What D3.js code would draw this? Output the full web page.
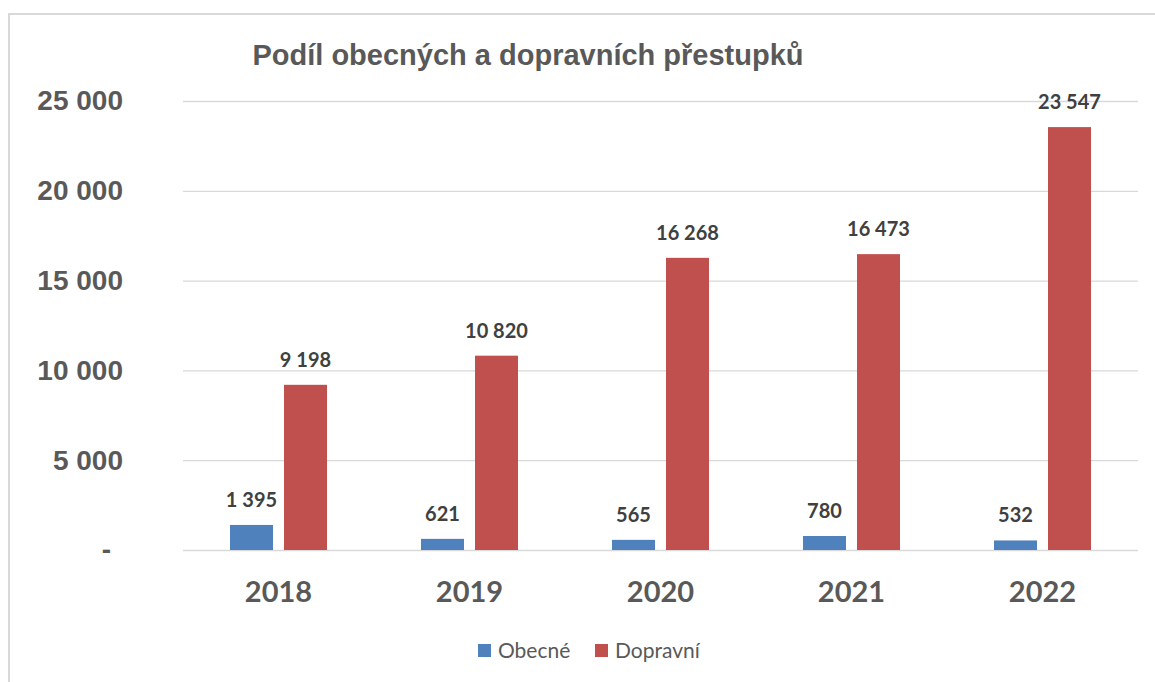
<!DOCTYPE html>
<html>
<head>
<meta charset="utf-8">
<script src="https://cdn.jsdelivr.net/npm/d3@7"></script>
<style>
  body { margin: 0; background: #fff; }
  svg { display: block; }
</style>
</head>
<body>
<div id="chart"></div>
<script>
var years = ["2018", "2019", "2020", "2021", "2022"];
var seriesNames = ["Obecné", "Dopravní"];
var obecne = [1395, 621, 565, 780, 532];
var dopravni = [9198, 10820, 16268, 16473, 23547];
var yTicks = [0, 5000, 10000, 15000, 20000, 25000];
var colors = ["#4F81BD", "#C0504D"];

var width = 1155, height = 682;
var plot = { left: 183, right: 1138, top: 101, bottom: 550 };

var svg = d3.select("#chart").append("svg")
  .attr("width", width)
  .attr("height", height);

/* chart frame - only top and left edges are visible */
svg.append("path")
  .attr("d", "M9,700 V14 H1160")
  .attr("fill", "none")
  .attr("stroke", "#D9D9D9")
  .attr("stroke-width", 2);

svg.append("text")
  .attr("x", 528)
  .attr("y", 65)
  .attr("text-anchor", "middle")
  .style("font-family", "'Liberation Sans', Arial, sans-serif")
  .style("font-weight", "bold")
  .style("font-size", "29px")
  .style("fill", "#595959")
  .text("Podíl obecných a dopravních přestupků");

var x0 = d3.scaleBand().domain(years).range([plot.left, plot.right]);
var x1 = d3.scaleBand().domain(seriesNames)
  .range([0, x0.bandwidth()])
  .paddingInner(0.2037)
  .paddingOuter(0.87);
var y = d3.scaleLinear().domain([0, 25000]).range([plot.bottom, plot.top]);

var fmt = function(d) {
  return d3.format(",")(d).replace(/,/g, " ");
};

/* y axis + gridlines */
var yAxis = svg.append("g")
  .attr("transform", "translate(" + plot.left + ",0)")
  .call(d3.axisLeft(y)
    .tickValues(yTicks)
    .tickSizeInner(-(plot.right - plot.left))
    .tickSizeOuter(0)
    .tickPadding(60)
    .tickFormat(function(d) { return d === 0 ? "-" : fmt(d); }));
yAxis.select(".domain").remove();
yAxis.selectAll("line")
  .attr("stroke", "#D9D9D9")
  .attr("stroke-width", 1.3);
yAxis.selectAll("text")
  .style("font-family", "'Liberation Sans', Arial, sans-serif")
  .style("font-weight", "bold")
  .style("font-size", "28px")
  .style("fill", "#595959")
  .filter(function(d) { return d === 0; })
  .attr("dx", -12);

/* x axis labels */
var xAxis = svg.append("g")
  .attr("transform", "translate(0," + plot.bottom + ")")
  .call(d3.axisBottom(x0).tickSize(0).tickPadding(31));
xAxis.select(".domain").remove();
xAxis.selectAll("text")
  .style("font-family", "Lato, 'Open Sans', sans-serif")
  .style("font-weight", "bold")
  .style("font-size", "29px")
  .style("fill", "#595959");

var rows = years.map(function(yr, i) {
  return { year: yr, values: [obecne[i], dopravni[i]] };
});

var groups = svg.selectAll("g.year")
  .data(rows)
  .enter().append("g")
  .attr("class", "year")
  .attr("transform", function(d) { return "translate(" + x0(d.year) + ",0)"; });

groups.selectAll("rect")
  .data(function(d) {
    return d.values.map(function(v, j) { return { s: seriesNames[j], v: v, j: j }; });
  })
  .enter().append("rect")
  .attr("x", function(d) { return x1(d.s); })
  .attr("y", function(d) { return y(d.v); })
  .attr("width", x1.bandwidth())
  .attr("height", function(d) { return plot.bottom - y(d.v); })
  .attr("fill", function(d) { return colors[d.j]; });

groups.selectAll("text.lbl")
  .data(function(d) {
    return d.values.map(function(v, j) { return { s: seriesNames[j], v: v }; });
  })
  .enter().append("text")
  .attr("class", "lbl")
  .attr("x", function(d) { return x1(d.s) + x1.bandwidth() / 2; })
  .attr("y", function(d) { return y(d.v) - 18; })
  .attr("text-anchor", "middle")
  .style("font-family", "Lato, 'Open Sans', sans-serif")
  .style("font-weight", "bold")
  .style("font-size", "20px")
  .style("fill", "#404040")
  .text(function(d) { return fmt(d.v); });

/* legend */
var legend = svg.append("g");
var legendX = [478, 595];
seriesNames.forEach(function(name, i) {
  legend.append("rect")
    .attr("x", legendX[i])
    .attr("y", 644)
    .attr("width", 13)
    .attr("height", 13)
    .attr("fill", colors[i]);
  legend.append("text")
    .attr("x", legendX[i] + 20)
    .attr("y", 658)
    .style("font-family", "Lato, 'Open Sans', sans-serif")
    .style("font-size", "21px")
    .style("fill", "#595959")
    .text(name);
});
</script>
</body>
</html>
